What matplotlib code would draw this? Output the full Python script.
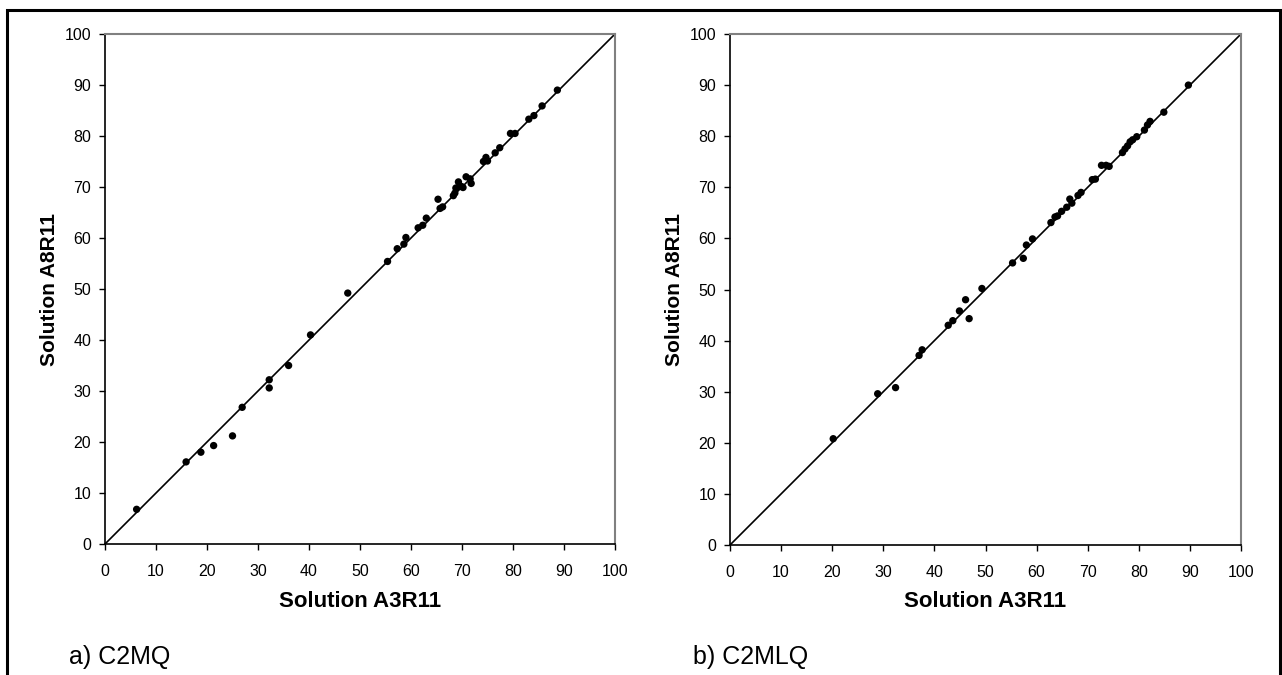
import matplotlib
matplotlib.use("Agg")
import matplotlib.pyplot as plt
from matplotlib.patches import Rectangle

plt.rcParams['font.family'] = ['Liberation Sans', 'DejaVu Sans']

# Panel a) C2MQ
a_x = [6.2, 15.9, 18.8, 21.3, 25.0, 26.9, 32.2, 32.2, 36.0, 40.3, 47.6, 55.4, 57.3, 58.6,
       59.0, 61.4, 62.3, 63.0, 65.3, 65.7, 66.2, 68.3, 68.6, 68.8, 69.3, 69.9, 70.2, 70.8,
       71.6, 71.8, 74.2, 74.7, 75.0, 76.5, 77.4, 79.5, 80.4, 83.1, 84.1, 85.7, 88.7]
a_y = [6.8, 16.1, 18.0, 19.3, 21.2, 26.8, 32.2, 30.6, 35.0, 41.0, 49.2, 55.4, 57.9, 58.8,
       60.1, 62.0, 62.5, 63.9, 67.6, 65.8, 66.1, 68.3, 68.8, 69.8, 71.0, 70.1, 69.9, 72.0,
       71.6, 70.7, 75.0, 75.8, 75.1, 76.7, 77.7, 80.5, 80.5, 83.3, 84.0, 85.9, 89.0]

# Panel b) C2MLQ
b_x = [20.2, 28.9, 32.4, 37.0, 37.6, 42.7, 43.6, 44.9, 46.1, 46.8, 49.3, 55.3, 57.4, 58.0,
       59.2, 62.8, 63.6, 64.1, 64.9, 65.9, 66.5, 66.9, 68.1, 68.7, 70.9, 71.5, 72.7, 73.6,
       74.2, 76.8, 77.3, 77.8, 78.3, 78.8, 79.6, 81.1, 81.7, 82.2, 84.9, 89.7]
b_y = [20.8, 29.6, 30.8, 37.1, 38.2, 43.0, 43.9, 45.8, 48.0, 44.3, 50.2, 55.2, 56.1, 58.7,
       59.9, 63.1, 64.2, 64.4, 65.3, 66.1, 67.7, 66.9, 68.4, 69.0, 71.5, 71.6, 74.3, 74.3,
       74.1, 76.8, 77.5, 78.1, 78.9, 79.3, 79.9, 81.2, 82.2, 82.9, 84.7, 90.0]

ticks = list(range(0, 101, 10))
x_label = "Solution A3R11"
y_label = "Solution A8R11"
panel_titles = ["a) C2MQ", "b) C2MLQ"]

W, H = 1282, 675
fig = plt.figure(figsize=(W / 100, H / 100), dpi=100)


def fx(px):
    return px / W


def fy(py):
    return 1 - py / H


# outer frame
fig.patches.append(Rectangle((fx(7), fy(678)), fx(1280) - fx(7), fy(10) - fy(678),
                             transform=fig.transFigure, fill=False,
                             edgecolor='black', linewidth=2.2, zorder=0))

panels = [
    dict(x=a_x, y=a_y, left=105, right=615, top=34, bottom=544, ylab_x=50, title_x=69),
    dict(x=b_x, y=b_y, left=730, right=1241, top=34, bottom=545, ylab_x=675, title_x=693),
]

for p, title in zip(panels, panel_titles):
    ax = fig.add_axes([fx(p['left']), fy(p['bottom']),
                       fx(p['right']) - fx(p['left']), fy(p['top']) - fy(p['bottom'])])
    ax.set_xlim(0, 100)
    ax.set_ylim(0, 100)
    ax.plot([0, 100], [0, 100], color='black', linewidth=1.2, zorder=2)
    ax.scatter(p['x'], p['y'], s=28, color='black', edgecolors='none', zorder=3)
    ax.set_xticks(ticks)
    ax.set_yticks(ticks)
    ax.tick_params(axis='both', direction='out', length=4, width=1, colors='black',
                   labelsize=11.5)
    ax.tick_params(axis='x', pad=10.5)
    ax.tick_params(axis='y', pad=6)
    for s in ['left', 'bottom']:
        ax.spines[s].set_color('black')
        ax.spines[s].set_linewidth(1.2)
    for s in ['top', 'right']:
        ax.spines[s].set_color('#808080')
        ax.spines[s].set_linewidth(1.5)
    cx = (p['left'] + p['right']) / 2
    fig.text(fx(cx), fy(607), x_label, ha='center', va='baseline',
             fontsize=16, fontweight='bold')
    cy = (p['top'] + p['bottom']) / 2
    fig.text(fx(p['ylab_x']), fy(cy), y_label, ha='center', va='center',
             rotation=90, fontsize=15, fontweight='bold')
    fig.text(fx(p['title_x']), fy(664), title, ha='left', va='baseline', fontsize=18)

fig.savefig("out.png", dpi=100)
